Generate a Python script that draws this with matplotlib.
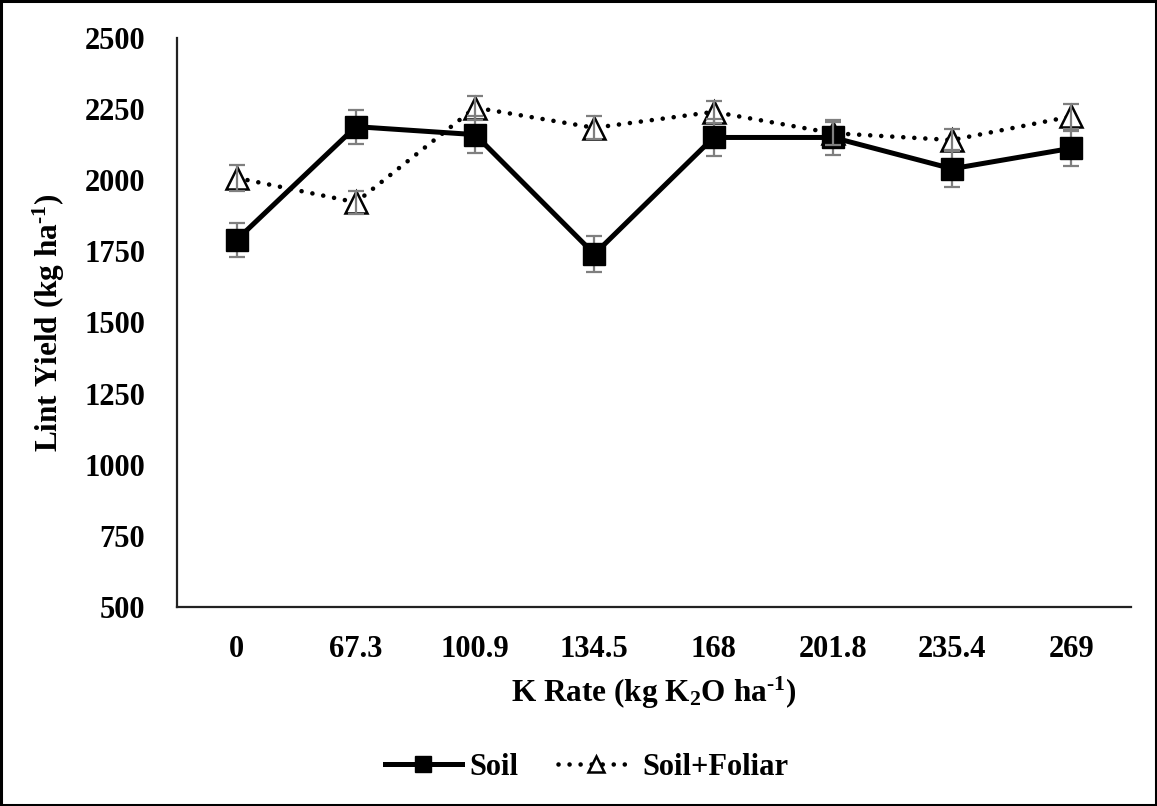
import numpy as np
import matplotlib.pyplot as plt
from matplotlib.patches import Rectangle

plt.rcParams['font.family'] = ['Liberation Serif', 'DejaVu Serif']
plt.rcParams['font.weight'] = 'bold'
plt.rcParams['mathtext.fontset'] = 'custom'
plt.rcParams['mathtext.rm'] = 'Liberation Serif:bold'
plt.rcParams['mathtext.bf'] = 'Liberation Serif:bold'
plt.rcParams['mathtext.default'] = 'bf'

# data
k_rates = ['0', '67.3', '100.9', '134.5', '168', '201.8', '235.4', '269']
soil = [1790, 2188, 2160, 1740, 2150, 2150, 2040, 2112]
soil_err = [60, 60, 65, 62, 65, 60, 65, 62]
foliar = [2008, 1922, 2255, 2184, 2240, 2165, 2141, 2224]
foliar_err = [45, 40, 42, 40, 38, 40, 40, 45]

x = np.arange(len(k_rates))

fig = plt.figure(figsize=(11.57, 8.06), dpi=100)
ax = fig.add_axes([0.153, 0.247, 0.8245, 0.706])

ax.plot(x, soil, color='black', lw=3.6, marker='s', ms=16,
        zorder=3, label='Soil')
ax.plot(x, foliar, color='black', lw=3.3, linestyle=(0, (0.01, 2.4)),
        dash_capstyle='round', marker='^', ms=15.5, mfc='white', mec='black',
        mew=1.8, zorder=2, label='Soil+Foliar')
ax.errorbar(x, soil, yerr=soil_err, fmt='none', ecolor='#7f7f7f',
            elinewidth=1.6, capsize=5.5, capthick=1.6, zorder=2.5)
ax.errorbar(x, foliar, yerr=foliar_err, fmt='none', ecolor='#7f7f7f',
            elinewidth=1.6, capsize=5.5, capthick=1.6, zorder=4)

ax.set_xlim(-0.5, len(k_rates) - 0.5)
ax.set_ylim(500, 2500)
ax.set_yticks(np.arange(500, 2501, 250))
ax.set_xticks(x)
ax.set_xticklabels(k_rates)
ax.tick_params(length=0, labelsize=22)
ax.tick_params(axis='x', pad=20)
ax.tick_params(axis='y', pad=23)
for lab in ax.get_xticklabels() + ax.get_yticklabels():
    lab.set_fontweight('bold')

for s in ['top', 'right']:
    ax.spines[s].set_visible(False)
for s in ['left', 'bottom']:
    ax.spines[s].set_linewidth(1.6)
    ax.spines[s].set_color('#222222')

ax.set_ylabel(r'Lint Yield (kg ha$^{\text{-}1}$)', fontsize=22.5,
              fontweight='bold', labelpad=12)
ax.set_xlabel(r'K Rate (kg K$_{2}$O ha$^{\text{-}1}$)', fontsize=22.5,
              fontweight='bold', labelpad=8)

fig.legend(loc='center', bbox_to_anchor=(0.507, 0.048), ncol=2, frameon=False,
           prop={'family': 'Liberation Serif', 'weight': 'bold', 'size': 22},
           handlelength=2.5, columnspacing=1.3, handletextpad=0.25,
           markerscale=0.72)

fig.patches.append(Rectangle((0.001, 0.001), 0.998, 0.998,
                             transform=fig.transFigure, fill=False,
                             edgecolor='black', lw=2.2))

fig.savefig('out.png', dpi=100)
